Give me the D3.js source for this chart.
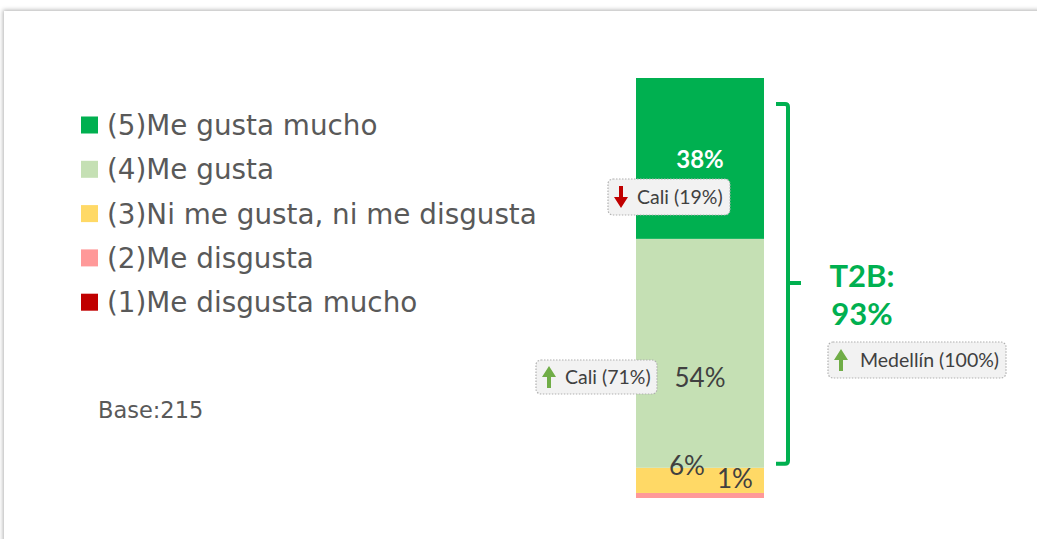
<!DOCTYPE html>
<html>
<head>
<meta charset="utf-8">
<script src="https://cdn.jsdelivr.net/npm/d3@7"></script>
<style>
  body { margin: 0; background: #fff; }
  svg { display: block; }
</style>
</head>
<body>
<div id="chart"></div>
<script>
// data
var categories = ['(5)Me gusta mucho', '(4)Me gusta', '(3)Ni me gusta, ni me disgusta', '(2)Me disgusta', '(1)Me disgusta mucho'];
var values = [38.3, 54.5, 6.0, 1.2, 0.0];
var valueLabels = ['38%', '54%', '6%', '1%', ''];
var colors = ['#00b050', '#c5e0b4', '#ffd966', '#ff9999', '#c00000'];
var bars = ['Total'];
var baseText = 'Base:215';
var t2bLabel = ['T2B:', '93%'];
var calloutText = ['Cali (19%)', 'Cali (71%)', 'Medellín (100%)'];
var calloutDir = ['down', 'up', 'up'];

const W = 1037, H = 539;

var svg = d3.select('#chart')
            .append('svg')
            .attr('width', W)
            .attr('height', H);

// panel with shadow
var defs = svg.append('defs');
defs.append('filter')
    .attr('id', 'shadow')
    .attr('x', '-5%').attr('y', '-5%').attr('width', '110%').attr('height', '110%')
    .append('feDropShadow')
    .attr('dx', -1).attr('dy', -1)
    .attr('stdDeviation', 2)
    .attr('flood-color', '#000')
    .attr('flood-opacity', 0.3);

svg.append('rect')
    .attr('x', 4).attr('y', 11)
    .attr('width', W + 20).attr('height', H + 20)
    .attr('fill', '#fff')
    .attr('filter', 'url(#shadow)');

// scales
var y = d3.scaleLinear().domain([0, 100]).range([498, 78]);
var x = d3.scaleBand().domain(bars).range([636, 764]);

// stack the segments (bottom = category 1)
var row = {};
categories.forEach((c, i) => { row[c] = values[i]; });
var stack = d3.stack().keys(categories.slice().reverse())([row]);

var segs = svg.append('g').attr('class', 'bar');
segs.selectAll('rect')
    .data(stack)
    .enter()
    .append('rect')
    .attr('x', x('Total'))
    .attr('width', x.bandwidth())
    .attr('y', d => y(d[0][1]))
    .attr('height', d => y(d[0][0]) - y(d[0][1]))
    .attr('fill', d => colors[categories.indexOf(d.key)]);

// segment helpers
function segTop(i) { return y(stack[4 - i][0][1]); }
function segBot(i) { return y(stack[4 - i][0][0]); }
var cx = x('Total') + x.bandwidth() / 2;

// value labels
var lbl = svg.append('g').style('font-family', 'Lato, "Open Sans", sans-serif');
lbl.append('text')
    .attr('x', cx).attr('y', (segTop(0) + segBot(0)) / 2 + 10)
    .attr('text-anchor', 'middle')
    .style('font-size', '24px').style('font-weight', 'bold')
    .attr('fill', '#fff')
    .text(valueLabels[0]);
lbl.append('text')
    .attr('x', cx).attr('y', (segTop(1) + segBot(1)) / 2 + 34)
    .attr('text-anchor', 'middle')
    .style('font-size', '26px')
    .attr('fill', '#404040')
    .text(valueLabels[1]);
lbl.append('text')
    .attr('x', cx - 13).attr('y', segTop(2) + 7)
    .attr('text-anchor', 'middle')
    .style('font-size', '26px')
    .attr('fill', '#404040')
    .text(valueLabels[2]);
lbl.append('text')
    .attr('x', cx + 35).attr('y', segTop(2) + 20)
    .attr('text-anchor', 'middle')
    .style('font-size', '26px')
    .attr('fill', '#404040')
    .text(valueLabels[3]);

// T2B bracket
var bx = 788, bTop = y(100) + 26, bBot = segTop(2) - 4;
var bMid = (bTop + bBot) / 2 - 1;
svg.append('path')
    .attr('d', `M${bx - 12},${bTop} L${bx - 3},${bTop} Q${bx},${bTop} ${bx},${bTop + 3} L${bx},${bBot - 3} Q${bx},${bBot} ${bx - 3},${bBot} L${bx - 12},${bBot} M${bx},${bMid} L${bx + 13},${bMid}`)
    .attr('fill', 'none')
    .attr('stroke', '#00b050')
    .attr('stroke-width', 4);

svg.append('g')
    .style('font-family', 'Lato, "Open Sans", sans-serif')
    .style('font-weight', 'bold')
    .style('font-size', '31px')
    .attr('fill', '#00b050')
    .selectAll('text')
    .data(t2bLabel)
    .enter()
    .append('text')
    .attr('x', (d, i) => 862 - i * 0)
    .attr('y', (d, i) => 287 + i * 38)
    .attr('text-anchor', 'middle')
    .text(d => d);

// callouts
var calloutPos = [
    {x: 608, y: 179, w: 122, h: 36},
    {x: 536, y: 360, w: 121, h: 34},
    {x: 828, y: 342, w: 178, h: 36}
];
var callouts = svg.selectAll('.callout')
    .data(calloutText)
    .enter()
    .append('g')
    .attr('class', 'callout')
    .attr('transform', (d, i) => `translate(${calloutPos[i].x},${calloutPos[i].y})`);

callouts.append('rect')
    .attr('width', (d, i) => calloutPos[i].w)
    .attr('height', (d, i) => calloutPos[i].h)
    .attr('rx', 5)
    .attr('fill', '#f2f2f2')
    .attr('stroke', '#b0b0b0')
    .attr('stroke-width', 1.2)
    .attr('stroke-dasharray', '1.5,1.5');

callouts.append('path')
    .attr('transform', (d, i) => `translate(13,${calloutPos[i].h / 2})`)
    .attr('d', (d, i) => calloutDir[i] === 'up'
        ? 'M0,-11 L7,0 L2,0 L2,11 L-2,11 L-2,0 L-7,0 Z'
        : 'M0,11 L7,0 L2,0 L2,-11 L-2,-11 L-2,0 L-7,0 Z')
    .attr('fill', (d, i) => calloutDir[i] === 'up' ? '#70ad47' : '#c00000');

callouts.append('text')
    .attr('x', (d, i) => i === 2 ? 32 : 29)
    .attr('y', (d, i) => calloutPos[i].h / 2 + 7)
    .style('font-family', 'Lato, "Open Sans", sans-serif')
    .style('font-size', '19.5px')
    .attr('fill', '#404040')
    .text(d => d);

// legend
var legend = svg.selectAll('.legendItem')
    .data(categories)
    .enter()
    .append('g')
    .attr('class', 'legendItem')
    .attr('transform', (d, i) => `translate(81, ${125 + i * 44.3})`);

legend.append('rect')
    .attr('x', 0).attr('y', -8.5)
    .attr('width', 17).attr('height', 17)
    .attr('fill', (d, i) => colors[i]);

legend.append('text')
    .attr('x', 26)
    .attr('y', 10)
    .style('font-family', '"DejaVu Sans", sans-serif')
    .style('font-size', '27.8px')
    .attr('fill', '#595959')
    .text(d => d);

svg.append('text')
    .attr('x', 98).attr('y', 418)
    .style('font-family', '"DejaVu Sans", sans-serif')
    .style('font-size', '22.5px')
    .attr('fill', '#595959')
    .text(baseText);
</script>
</body>
</html>
